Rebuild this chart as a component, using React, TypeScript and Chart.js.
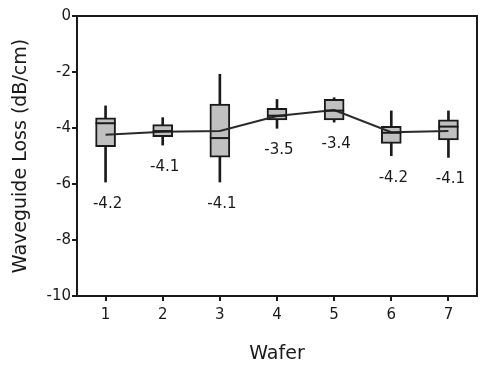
import React, { useEffect, useRef } from "react";
import { Chart, registerables } from "chart.js";

Chart.register(...registerables);

const wafers = ["1", "2", "3", "4", "5", "6", "7"];
const whiskerMin = [-5.93, -4.61, -5.93, -4.01, -3.79, -4.99, -5.05];
const q1 = [-4.67, -4.31, -5.04, -3.71, -3.71, -4.55, -4.43];
const medians = [-3.83, -4.11, -4.36, -3.56, -3.38, -4.17, -3.95];
const q3 = [-3.64, -3.88, -3.15, -3.3, -2.98, -3.94, -3.71];
const whiskerMax = [-3.21, -3.63, -2.08, -2.98, -2.92, -3.39, -3.39];
const means = [-4.24, -4.13, -4.11, -3.57, -3.36, -4.15, -4.11];
const meanLabels = ["-4.2", "-4.1", "-4.1", "-3.5", "-3.4", "-4.2", "-4.1"];
const yTicks = [0, -2, -4, -6, -8, -10];

const FONT = "'DejaVu Sans', Verdana, sans-serif";
const INK = "#1a1a1a";

const boxExtras = {
  id: "boxExtras",
  afterDatasetsDraw(chart: any) {
    const { ctx, chartArea, scales } = chart;
    const xs = scales.x;
    const ys = scales.y;
    ctx.save();
    ctx.strokeStyle = INK;
    ctx.lineWidth = 2;
    const half = 10;
    medians.forEach((m, i) => {
      const x = xs.getPixelForValue(i);
      const y = ys.getPixelForValue(m);
      ctx.beginPath();
      ctx.moveTo(x - half, y);
      ctx.lineTo(x + half, y);
      ctx.stroke();
    });
    ctx.fillStyle = INK;
    ctx.font = `15px ${FONT}`;
    ctx.textAlign = "center";
    ctx.textBaseline = "middle";
    meanLabels.forEach((t, i) => {
      const x = xs.getPixelForValue(i) + 2;
      const y = ys.getPixelForValue(whiskerMin[i]) + 22;
      ctx.fillText(t, x, y);
    });
    ctx.strokeStyle = INK;
    ctx.lineWidth = 2;
    ctx.strokeRect(chartArea.left, chartArea.top, chartArea.right - chartArea.left, chartArea.bottom - chartArea.top);
    ctx.restore();
  },
};

export default function App() {
  const ref = useRef<HTMLCanvasElement | null>(null);
  useEffect(() => {
    document.body.style.margin = "0";
    const canvas = ref.current!;
    const chart = new Chart(canvas, {
      type: "bar",
      data: {
        labels: wafers,
        datasets: [
          {
            type: "line",
            data: means,
            borderColor: "#2a2a2a",
            borderWidth: 2,
            pointRadius: 0,
            tension: 0,
            order: 0,
          } as any,
          {
            type: "bar",
            data: q1.map((v, i) => [v, q3[i]]),
            backgroundColor: "#c0c0c0",
            borderColor: INK,
            borderWidth: 2,
            borderSkipped: false,
            barThickness: 20,
            grouped: false,
            order: 1,
          } as any,
          {
            type: "bar",
            data: whiskerMin.map((v, i) => [v, whiskerMax[i]]),
            backgroundColor: INK,
            borderWidth: 0,
            barThickness: 2,
            grouped: false,
            order: 2,
          } as any,
        ],
      },
      options: {
        responsive: false,
        animation: false,
        layout: { padding: { top: 16, right: 20, left: 0, bottom: 0 } },
        plugins: { legend: { display: false }, tooltip: { enabled: false } },
        scales: {
          x: {
            offset: true,
            grid: { drawOnChartArea: false, offset: false, tickLength: 5, color: INK, lineWidth: 2 },
            border: { display: true, color: INK, width: 2 },
            ticks: { color: INK, font: { family: FONT, size: 15 }, padding: 5 },
            title: { display: true, text: "Wafer", color: INK, font: { family: FONT, size: 19 }, padding: { top: 4, bottom: 4 } },
            afterFit: (s: any) => { s.height = 73; },
          },
          y: {
            min: -10,
            max: 0,
            afterBuildTicks: (s: any) => { s.ticks = yTicks.map((v) => ({ value: v })); },
            grid: { drawOnChartArea: false, tickLength: 5, color: INK, lineWidth: 2 },
            border: { display: true, color: INK, width: 2 },
            ticks: { color: INK, font: { family: FONT, size: 15 }, padding: 1 },
            title: { display: true, text: "Waveguide Loss (dB/cm)", color: INK, font: { family: FONT, size: 19 }, padding: { top: 10, bottom: 4 } },
            afterFit: (s: any) => { s.width = 77; },
          },
        },
      },
      plugins: [boxExtras],
    });
    return () => chart.destroy();
  }, []);
  return <canvas ref={ref} width={497} height={369} style={{ display: "block" }} />;
}
